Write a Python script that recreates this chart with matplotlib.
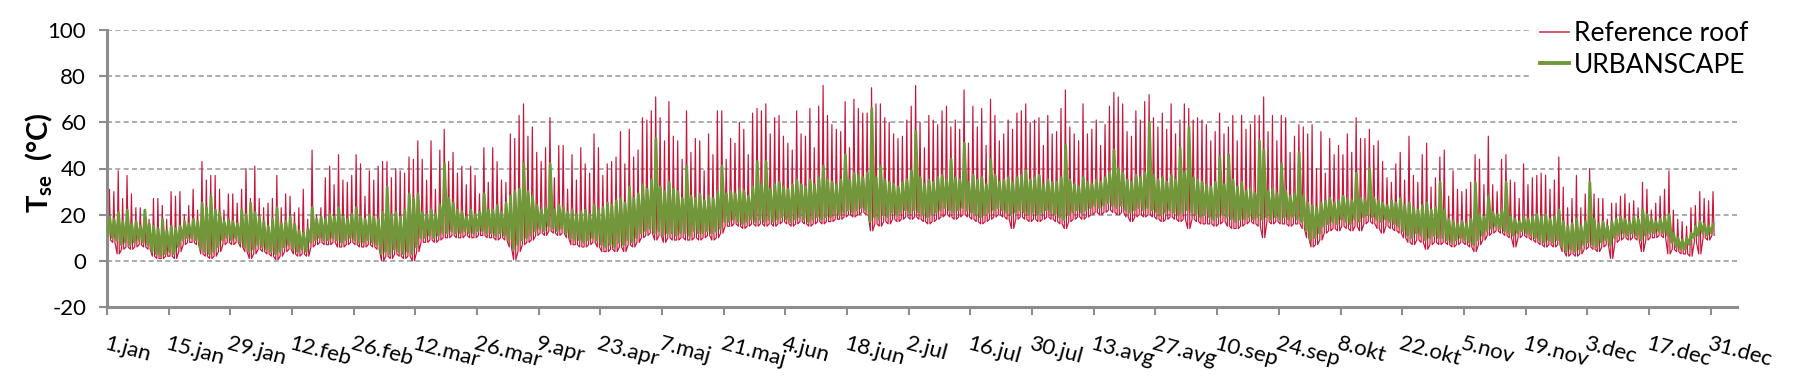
import numpy as np
import matplotlib
matplotlib.use("Agg")
import matplotlib.pyplot as plt
from matplotlib.lines import Line2D

plt.rcParams['font.family'] = ['Lato', 'DejaVu Sans']
plt.rcParams['mathtext.fontset'] = 'custom'
plt.rcParams['mathtext.rm'] = 'Lato'
plt.rcParams['mathtext.bf'] = 'Lato:bold'
plt.rcParams['mathtext.it'] = 'Lato:italic'
plt.rcParams['axes.unicode_minus'] = False

# ---- data: daily extremes (deg C), day 0 = 1 Jan ----
ref_max = [
    31,30,39,27,37,29,23,23,21,18,27,27,24,18,
    30,28,30,20,24,31,22,43,35,37,37,31,22,29,
    29,25,31,40,27,41,27,23,25,27,37,23,29,28,21,23,
    31,18,48,20,23,36,41,33,46,35,34,37,46,42,28,39,35,41,43,43,36,40,39,38,45,44,52,44,35,52,31,48,57,43,47,38,41,33,41,37,29,49,34,
    49,43,35,34,55,53,63,68,54,58,47,43,49,62,36,50,50,31,46,35,49,42,38,55,49,37,42,43,45,56,42,57,45,48,62,61,65,71,62,52,69,54,52,
    44,65,47,53,52,39,55,46,65,65,44,53,51,60,57,46,64,66,65,68,55,62,63,54,51,48,65,55,54,66,49,67,76,63,59,57,56,69,49,70,66,64,64,
    75,68,68,62,60,55,53,54,61,67,76,60,49,63,61,59,65,67,58,61,57,74,51,67,58,66,50,70,63,52,55,61,57,64,65,68,60,61,62,50,63,55,
    56,66,74,58,55,52,68,55,57,61,50,59,67,73,71,68,56,54,65,61,69,72,62,58,64,57,68,55,61,68,66,61,62,61,59,52,56,64,55,58,63,52,63,
    57,59,63,63,71,56,63,52,63,62,47,54,59,58,55,59,40,56,38,53,46,50,46,55,47,62,53,53,57,50,52,43,36,34,42,47,35,54,37,34,46,51,32,36,45,
    48,28,39,31,30,31,34,46,44,33,54,33,30,44,46,35,34,27,42,33,36,37,38,37,31,35,45,32,23,27,37,23,29,40,29,27,27,18,25,25,28,29,25,26,23,34,31,22,
    25,28,31,39,22,18,17,15,23,24,30,27,26,30,
]
ref_min = [
    9,8,3,5,6,5,6,7,6,5,2,1,1,2,2,1,4,7,8,8,7,3,2,1,2,4,7,8,7,8,6,4,1,3,5,4,3,2,0.5,2,4,5,3,2,
    3,2,6,7,8,7,7,8,6,6,7,8,7,6,6,7,6,5,0,2,1,3,2,1,2,0,4,8,8,9,8,9,10,10,11,10,10,11,10,10,11,11,10,
    10,9,10,9,6,0.5,4,7,8,9,11,12,11,13,12,11,12,10,7,7,6,6,7,8,6,4,4,5,4,6,4,7,6,8,10,11,12,9,11,8,10,9,9,
    10,9,9,10,9,10,11,9,10,12,15,15,16,15,14,15,16,15,16,15,16,15,16,17,16,15,16,17,16,15,16,17,16,17,17,18,18,19,20,19,20,21,20,
    13,16,15,17,16,18,17,18,19,18,19,18,17,16,17,18,19,20,19,18,19,20,19,18,17,16,17,18,19,20,19,18,14,18,19,18,17,18,17,18,19,18,
    17,16,14,17,18,19,18,19,20,21,20,21,22,21,20,21,19,17,19,20,19,20,19,18,17,18,19,18,17,18,14,18,17,16,16,16,15,16,17,15,14,14,15,
    16,17,16,15,10,17,16,17,16,16,15,16,16,14,10,6,7,9,12,13,14,13,15,14,13,15,13,16,17,16,14,12,15,14,13,12,10,8,7,9,8,5,7,8,7,
    8,7,6,7,8,7,6,4,7,9,11,12,13,12,11,10,6,10,11,10,9,8,7,6,7,6,7,4,2,3,2,3,5,6,5,4,6,7,1,8,9,10,9,10,9,4,9,10,
    10,11,10,3,5,4,3,3,2,8,3,10,9,11,
]
urb_max = [
    19,18,21,17,22,16,17,15,22,16,15,14,18,13,15,14,15,17,16,18,17,25,23,28,22,21,17,18,17,16,22,20,25,21,19,17,15,18,23,16,17,19,16,13,
    12,14,23,18,19,18,20,19,23,19,18,20,23,19,18,20,19,18,21,32,20,21,19,22,29,27,29,21,20,22,20,24,42,27,25,22,21,19,22,20,21,29,22,
    22,24,21,25,28,30,31,42,30,28,24,22,23,42,22,24,23,21,22,20,21,22,20,24,22,23,25,24,26,27,25,32,27,29,33,31,35,53,32,30,34,31,30,
    27,41,28,27,29,26,28,27,30,41,29,30,29,31,30,28,32,43,33,43,31,33,34,32,31,33,35,33,32,35,33,36,41,35,34,33,35,46,35,38,37,36,38,
    66,36,41,35,34,33,32,34,35,39,56,36,33,35,34,36,37,35,44,36,35,51,34,37,35,36,33,44,37,34,35,36,34,36,37,39,35,36,37,33,35,34,
    34,36,50,35,33,32,36,34,33,35,34,36,38,48,40,38,35,34,37,36,38,60,37,35,36,34,37,35,49,38,58,36,35,34,33,32,34,45,33,46,35,32,34,
    30,31,29,52,48,30,31,29,42,30,28,29,47,28,25,24,23,25,26,27,25,26,28,27,26,38,27,26,40,27,26,25,24,26,25,27,24,25,23,22,24,25,22,23,34,
    22,18,17,16,17,16,18,34,20,19,28,21,20,22,34,19,18,17,19,18,19,20,19,20,18,19,22,17,15,16,18,15,17,34,18,16,17,15,17,18,19,18,17,19,18,22,20,18,
    17,18,19,20,12,10,9,10,12,15,17,16,15,16,
]
urb_min = [
    11,10,9,7,8,7,8,9,8,7,4,3,2,3,4,3,6,9,10,10,9,5,4,3,4,6,9,10,9,10,8,6,4,5,7,6,5,4,3,4,6,7,5,4,
    5,4,8,9,10,9,9,10,9,8,9,10,9,8,8,9,8,7,3,4,3,5,4,3,4,3,6,10,10,11,10,11,12,12,13,12,12,13,12,12,13,13,12,
    12,11,12,11,9,5,7,9,10,11,13,14,13,15,14,13,14,12,10,9,9,8,9,10,9,7,6,7,6,8,7,9,8,10,12,13,14,12,13,11,12,12,11,
    12,12,11,13,12,12,13,12,13,14,17,17,18,17,16,17,18,17,18,17,18,17,18,19,18,17,18,19,18,17,18,19,18,19,19,20,20,21,22,21,22,23,22,
    17,19,18,20,19,21,20,21,22,21,22,21,20,19,20,21,22,23,22,21,22,23,22,21,20,19,20,21,22,23,22,21,20,21,22,21,20,21,20,21,22,21,
    20,19,18,20,21,22,21,22,23,24,23,24,25,24,23,24,22,21,22,23,22,23,22,21,20,21,22,21,20,21,22,21,20,19,20,19,18,19,20,19,18,17,18,
    18,19,18,19,18,19,18,19,18,19,18,19,18,17,13,9,10,12,15,16,17,16,18,17,16,18,17,19,20,19,18,17,18,17,16,15,13,11,10,12,11,9,10,11,10,
    10,9,8,9,10,9,8,7,9,11,13,14,15,14,13,12,11,12,13,12,11,10,9,8,9,8,9,6,4,5,4,5,7,8,7,6,8,9,7,10,11,12,11,12,11,9,11,12,
    12,13,12,11,8,6,5,5,7,10,11,12,11,12,
]
tick_labels = ["1.jan", "15.jan", "29.jan", "12.feb", "26.feb", "12.mar", "26.mar",
               "9.apr", "23.apr", "7.maj", "21.maj", "4.jun", "18.jun", "2.jul",
               "16.jul", "30.jul", "13.avg", "27.avg", "10.sep", "24.sep", "8.okt",
               "22.okt", "5.nov", "19.nov", "3.dec", "17.dec", "31.dec"]
tick_days = list(range(0, 365, 14))
series_names = ["Reference roof", "URBANSCAPE"]

RED = "#C8153A"
GREEN = "#72973A"
GRAY = "#8C8C8C"


def daily_path(lo, hi, times):
    """One sample per listed time of day: low, high, low (night values repeat)."""
    n = min(len(lo), len(hi))
    d = np.arange(n, dtype=float)
    lo = np.asarray(lo[:n], float)
    hi = np.asarray(hi[:n], float)
    vals = {'lo': lo, 'hi': hi}
    x = np.column_stack([d + t for t, _ in times]).ravel()
    y = np.column_stack([vals[k] for _, k in times]).ravel()
    return x, y


fig = plt.figure(figsize=(18, 3.88), dpi=100)
ax = fig.add_axes([107 / 1800, 1 - 307 / 388, 1630 / 1800, 277 / 388])

xr, yr = daily_path(ref_min, ref_max, [(0.30, 'lo'), (0.55, 'hi'), (0.80, 'lo')])
xu, yu = daily_path(urb_min, urb_max, [(0.22, 'lo'), (0.6, 'hi')])
ax.plot(xr, yr, color=RED, lw=0.85, zorder=2)
ax.plot(xu, yu, color=GREEN, lw=2.0, zorder=3)

ax.set_xlim(0, 370)
ax.set_ylim(-20, 100)
ax.set_yticks(range(-20, 101, 20))
ax.set_xticks(tick_days)
ax.set_xticklabels(tick_labels, rotation=-15, ha='left', va='top',
                   rotation_mode='anchor', fontsize=16)
ax.tick_params(axis='y', labelsize=16, length=6, width=1.5, color=GRAY, pad=9)
ax.tick_params(axis='x', length=6, width=1.5, color=GRAY, pad=13)

for y in range(0, 101, 20):
    ax.axhline(y, color="#9E9E9E", lw=1.2, ls=(0, (3, 2)), zorder=1)

for s in ['top', 'right']:
    ax.spines[s].set_visible(False)
for s in ['left', 'bottom']:
    ax.spines[s].set_color(GRAY)
    ax.spines[s].set_linewidth(2.2)

ax.set_ylabel(r'$\mathbf{T}_{\mathbf{se}}$  (°C)', fontsize=21, fontweight='bold')
ax.yaxis.set_label_coords(-0.032, 0.52)

handles = [Line2D([], [], color="#D9566B", lw=1.4),
           Line2D([], [], color=GREEN, lw=2.8)]
leg = fig.legend(handles, series_names, loc='upper left',
                 bbox_to_anchor=(1532 / 1800, 1 - 13 / 388), fontsize=19,
                 frameon=True, facecolor='white', edgecolor='none', framealpha=1,
                 fancybox=False, borderpad=0.3, labelspacing=0.25,
                 handlelength=1.1, handletextpad=0.2, borderaxespad=0)

fig.savefig("out.png", dpi=100)
